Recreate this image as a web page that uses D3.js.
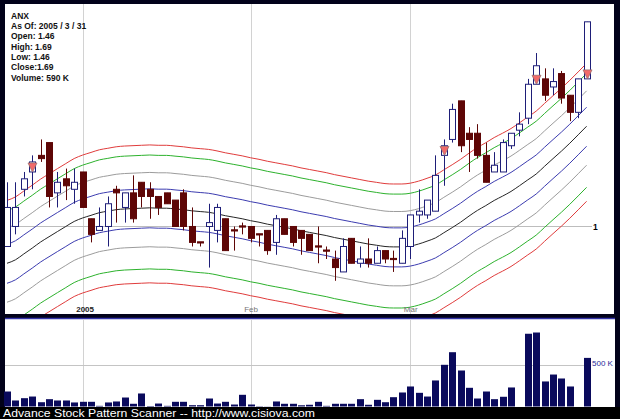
<!DOCTYPE html>
<html><head><meta charset="utf-8">
<script src="https://cdn.jsdelivr.net/npm/d3@7"></script>
<style>html,body{margin:0;padding:0;background:#000;}svg{display:block;}</style>
</head><body><svg id="c" width="620" height="419"></svg>
<script>
// ---------------- data ----------------
const symbol = "ANX";
const dates = ["2004-12-20","2004-12-21","2004-12-22","2004-12-23","2004-12-27","2004-12-28","2004-12-29","2004-12-30","2004-12-31",
"2005-01-03","2005-01-04","2005-01-05","2005-01-06","2005-01-07","2005-01-10","2005-01-11","2005-01-12","2005-01-13","2005-01-14",
"2005-01-18","2005-01-19","2005-01-20","2005-01-21","2005-01-24","2005-01-25","2005-01-26","2005-01-27","2005-01-28","2005-01-31",
"2005-02-01","2005-02-02","2005-02-03","2005-02-04","2005-02-07","2005-02-08","2005-02-09","2005-02-10","2005-02-11","2005-02-14",
"2005-02-15","2005-02-16","2005-02-17","2005-02-18","2005-02-22","2005-02-23","2005-02-24","2005-02-25","2005-02-28",
"2005-03-01","2005-03-02","2005-03-03","2005-03-04","2005-03-07","2005-03-08","2005-03-09","2005-03-10","2005-03-11","2005-03-14",
"2005-03-15","2005-03-16","2005-03-17","2005-03-18","2005-03-21","2005-03-22","2005-03-23","2005-03-24","2005-03-28","2005-03-29",
"2005-03-30","2005-03-31"];
const open  = [0.95,1.00,1.10,1.15,1.20,1.24,1.09,1.13,1.10,1.15, 1.02,0.99,1.00,1.10,1.05,1.09,1.12,1.10,1.08,1.09,
               1.07,1.09,1.00,0.96,1.00,0.99,1.02,0.99,1.00,1.00, 0.98,0.99,0.96,1.02,1.00,0.99,0.98,0.95,0.94,0.92,
               0.89,0.97,0.91,0.92,0.91,0.94,0.92,0.91,0.95,1.03, 1.03,1.04,1.20,1.25,1.38,1.27,1.27,1.20,1.15,1.15,
               1.23,1.28,1.32,1.44,1.46,1.43,1.48,1.40,1.34,1.46];
const high  = [1.12,1.12,1.15,1.20,1.25,1.24,1.15,1.16,1.16,1.15, 1.02,1.05,1.08,1.11,1.09,1.14,1.12,1.12,1.08,1.09,
               1.07,1.10,1.05,0.96,1.06,1.06,1.02,1.00,1.01,1.00, 0.98,0.99,1.03,1.02,1.00,0.99,0.98,1.00,0.95,0.94,
               0.97,0.97,0.95,0.97,0.95,0.94,0.94,0.99,1.03,1.10, 1.07,1.20,1.25,1.37,1.38,1.29,1.30,1.24,1.21,1.25,
               1.27,1.34,1.46,1.56,1.50,1.50,1.49,1.40,1.46,1.69];
const low   = [0.95,0.98,1.08,1.10,1.18,1.05,1.05,1.07,1.06,1.05, 0.96,0.99,0.95,1.01,1.01,1.01,1.05,1.02,1.03,1.06,
               1.00,0.99,0.95,0.95,0.90,0.96,0.94,0.94,0.98,0.96, 0.95,0.93,0.93,0.98,0.95,0.93,0.94,0.91,0.92,0.87,
               0.89,0.91,0.90,0.90,0.91,0.91,0.89,0.91,0.92,1.01, 1.02,1.04,1.11,1.24,1.21,1.15,1.19,1.12,1.15,1.15,
               1.22,1.26,1.30,1.44,1.38,1.40,1.37,1.31,1.32,1.46];
const close = [1.05,1.05,1.13,1.18,1.19,1.08,1.12,1.11,1.12,1.05, 0.98,1.00,1.06,1.09,1.09,1.02,1.08,1.08,1.05,1.06,
               1.00,1.00,0.96,0.96,1.01,1.05,0.94,0.99,1.00,0.97, 0.98,0.94,1.02,0.98,0.96,0.97,0.94,0.95,0.94,0.90,
               0.95,0.91,0.92,0.91,0.94,0.92,0.92,0.97,1.03,1.04, 1.07,1.14,1.23,1.35,1.23,1.25,1.20,1.12,1.17,1.24,
               1.27,1.30,1.44,1.51,1.40,1.45,1.39,1.34,1.46,1.69];
const volumeK = [182,73,101,121,52,89,73,73,49,57, 57,8,49,61,109,33,158,6,36,8,
                 57,57,16,16,97,36,57,24,142,24, 4,2,61,33,33,15,21,57,8,33,
                 33,33,89,21,81,52,113,170,243,166, 121,316,506,659,437,227,97,182,89,118,
                 231,0,883,898,304,388,340,243,0,590];
const movingAvg = [0.910,0.918,0.932,0.946,0.961,0.974,0.987,1.000,1.013,1.022,
                   1.029,1.036,1.040,1.044,1.046,1.047,1.048,1.049,1.048,1.048,
                   1.046,1.044,1.041,1.039,1.037,1.033,1.028,1.024,1.020,1.015,
                   1.011,1.006,1.002,0.998,0.994,0.989,0.985,0.981,0.977,0.972,
                   0.968,0.964,0.960,0.956,0.953,0.950,0.949,0.949,0.951,0.956,
                   0.963,0.971,0.984,0.997,1.011,1.027,1.042,1.055,1.069,1.081,
                   1.094,1.110,1.127,1.144,1.167,1.190,1.213,1.238,1.265,1.293];
const envelopePct = [0.05, 0.095, 0.145, 0.175];
const signalDates = ["2004-12-23","2005-03-07","2005-03-22","2005-03-31"];
const priceTicks = [1];
const volumeTicks = [500];
const footer = "Advance Stock Pattern Scanner -- http://www.cisiova.com";

// ---------------- drawing ----------------
const W = 620, H = 419;
const FONT = "'Liberation Sans', Arial, sans-serif";
const svg = d3.select("#c");
svg.append("rect").attr("width", W).attr("height", H).attr("fill", "#02021a");
svg.append("rect").attr("x", 0).attr("y", 407).attr("width", W).attr("height", 12).attr("fill", "#000");

const P = {x0: 5, x1: 614, y0: 4, y1: 314};
const V = {x0: 5, x1: 615, y0: 319, y1: 407};

svg.append("rect").attr("x", P.x0).attr("y", P.y0).attr("width", P.x1 - P.x0).attr("height", P.y1 - P.y0).attr("fill", "#fff");
svg.append("rect").attr("x", V.x0).attr("y", V.y0).attr("width", V.x1 - V.x0).attr("height", V.y1 - V.y0).attr("fill", "#fff");
svg.append("line").attr("x1", V.x0).attr("x2", V.x1).attr("y1", V.y0 - 0.5).attr("y2", V.y0 - 0.5).attr("stroke", "#3434a8").attr("stroke-width", 1.5);

const defs = svg.append("defs");
defs.append("clipPath").attr("id", "pc").append("rect").attr("x", P.x0).attr("y", P.y0).attr("width", P.x1 - P.x0).attr("height", P.y1 - P.y0);

const x = d3.scalePoint().domain(dates).range([7, 586.6]);
const y = d3.scaleLog().domain([0.799, 1.769]).range([P.y1, P.y0]);
const yv = d3.scaleLinear().domain([0, 1062]).range([406.5, V.y0]);
const cx = d => Math.round(x(d));

// month starts
const parse = d3.timeParse("%Y-%m-%d");
const monthStarts = dates.filter((d, i) => i > 0 && parse(d).getMonth() !== parse(dates[i - 1]).getMonth());

const grid = svg.append("g").attr("stroke", "#d2d2d2").attr("stroke-width", 1);
monthStarts.forEach(d => {
  grid.append("line").attr("x1", cx(d) + 0.5).attr("x2", cx(d) + 0.5).attr("y1", P.y0).attr("y2", P.y1);
  grid.append("line").attr("x1", cx(d) + 0.5).attr("x2", cx(d) + 0.5).attr("y1", V.y0).attr("y2", V.y1);
});
priceTicks.forEach(t => {
  svg.append("line").attr("x1", P.x0).attr("x2", 592).attr("y1", Math.round(y(t)) + 0.5).attr("y2", Math.round(y(t)) + 0.5).attr("stroke", "#bdbdbd");
});
volumeTicks.forEach(t => {
  svg.append("line").attr("x1", V.x0).attr("x2", 590).attr("y1", Math.round(yv(t)) + 0.5).attr("y2", Math.round(yv(t)) + 0.5).attr("stroke", "#c4c4c4");
});

// envelopes
const plot = svg.append("g").attr("clip-path", "url(#pc)");
const line = d3.line().x((v, i) => x(dates[i])).y(v => y(v)).curve(d3.curveMonotoneX);
const bandColors = ["#3c3cb0", "#9c9c9c", "#2db22d", "#e03c3c"];
envelopePct.forEach((k, j) => {
  [1 + k, 1 - k].forEach(f => {
    plot.append("path").attr("d", line(movingAvg.map(v => v * f)))
      .attr("fill", "none").attr("stroke", bandColors[j]).attr("stroke-width", 1);
  });
});
plot.append("path").attr("d", line(movingAvg)).attr("fill", "none").attr("stroke", "#262626").attr("stroke-width", 1);

// candles
const UP = "#1e1e78", DOWN = "#5e0606";
const candles = dates.map((d, i) => ({d, o: open[i], h: high[i], l: low[i], c: close[i], v: volumeK[i]}));
const cg = plot.append("g");
candles.forEach(k => {
  const up = k.c > k.o;
  const col = up ? UP : DOWN;
  const xc = cx(k.d) + 0.5;
  cg.append("line").attr("x1", xc).attr("x2", xc).attr("y1", y(k.h)).attr("y2", y(k.l)).attr("stroke", col);
  const top = y(Math.max(k.o, k.c)), bot = y(Math.min(k.o, k.c));
  const h = Math.max(1.2, bot - top);
  cg.append("rect").attr("x", xc - 3).attr("y", up ? top : top - (h === 1.2 ? 0.6 : 0))
    .attr("width", 6).attr("height", h)
    .attr("fill", up ? "#fff" : DOWN).attr("stroke", col).attr("stroke-width", 1);
});
// signal markers
signalDates.forEach(sd => {
  const i = dates.indexOf(sd);
  const xc = cx(sd) + 0.5, yo = y(open[i]);
  cg.append("path").attr("d", `M${xc - 4.5},${yo - 9}L${xc + 4.5},${yo - 9}L${xc},${yo}Z`)
    .attr("fill", "#f26a6a").attr("stroke", "#9a7070").attr("stroke-width", 0.8);
});

// volume bars
svg.append("g").selectAll("rect").data(candles).join("rect")
  .attr("x", k => cx(k.d) - 3).attr("width", 7)
  .attr("y", k => yv(k.v)).attr("height", k => yv(0) - yv(k.v))
  .attr("fill", "#0a0a5c");

// right axes
const pa = svg.append("g").attr("transform", "translate(593,0)")
  .call(d3.axisRight(y).tickValues(priceTicks).tickSize(0).tickPadding(0).tickFormat(d3.format("d")));
pa.select(".domain").remove();
pa.selectAll("text").attr("font-family", FONT).attr("font-size", 8.5).attr("font-weight", "bold").attr("fill", "#000");

const va = svg.append("g").attr("transform", "translate(592,-2.5)")
  .call(d3.axisRight(yv).tickValues(volumeTicks).tickSize(0).tickPadding(0).tickFormat(d => d + " K"));
va.select(".domain").remove();
va.selectAll("text").attr("font-family", FONT).attr("font-size", 8).attr("fill", "#2a2a9a");

// month labels
const xa = svg.append("g").attr("transform", "translate(0,304)")
  .call(d3.axisBottom(x).tickValues(monthStarts).tickSize(0).tickPadding(2.5)
    .tickFormat(d => { const t = parse(d); return t.getMonth() === 0 ? d3.timeFormat("%Y")(t) : d3.timeFormat("%b")(t); }));
xa.select(".domain").remove();
xa.selectAll("text").attr("font-family", FONT).attr("font-size", 8)
  .attr("font-weight", d => parse(d).getMonth() === 0 ? "bold" : "normal")
  .attr("fill", d => parse(d).getMonth() === 0 ? "#222" : "#777")
  .attr("dx", d => parse(d).getMonth() === 0 ? 2 : 0);

// info text
const last = candles[candles.length - 1];
const lt = parse(last.d);
const fmt = d3.format(".2f");
const info = [symbol,
  `As Of: ${lt.getFullYear()} / ${lt.getMonth() + 1} / ${lt.getDate()}`,
  `Open: ${fmt(last.o)}`, `High: ${fmt(last.h)}`, `Low: ${fmt(last.l)}`,
  `Close:${fmt(last.c)}`, `Volume: ${last.v} K`];
svg.append("g").selectAll("text").data(info).join("text")
  .attr("x", 11).attr("y", (t, i) => 18.5 + i * 10.35)
  .attr("font-family", FONT).attr("font-size", 8.5).attr("font-weight", "bold").attr("fill", "#111")
  .text(t => t);

svg.append("text").attr("x", 3).attr("y", 416.6).attr("font-family", FONT).attr("font-size", 11.2)
  .attr("textLength", 312).attr("lengthAdjust", "spacingAndGlyphs")
  .attr("fill", "#fff").text(footer);
</script></body></html>
